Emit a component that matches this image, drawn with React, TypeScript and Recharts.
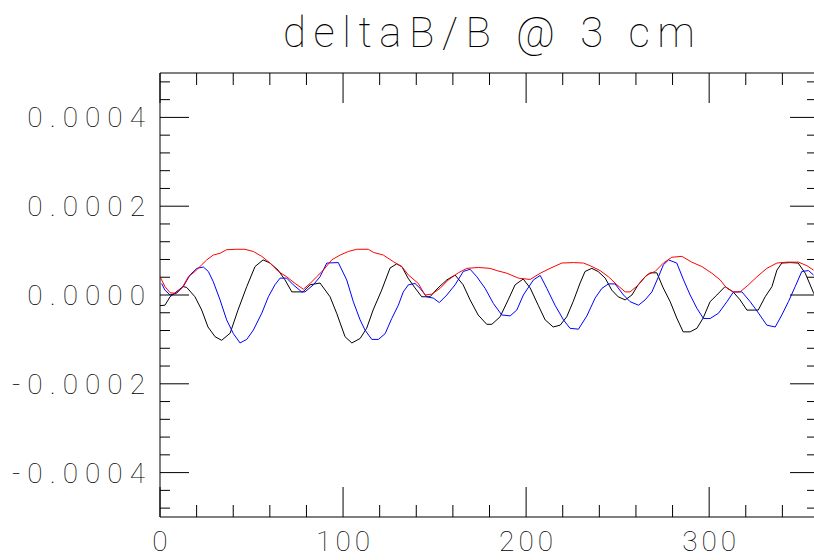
import React from 'react';
import { LineChart, Line, XAxis, YAxis } from 'recharts';

// values in units of 1e-4
const blackSeries: [number, number][] = [
  [0, -0.24], [2.7, -0.23], [5.5, -0.04], [12.6, 0.19], [14.6, 0.17], [19.1, -0.04], [22.8, -0.34],
  [26.2, -0.72], [30.1, -0.94], [33.7, -1.02], [38.3, -0.86], [42.6, -0.34], [47.4, 0.19], [51.9, 0.64],
  [56.3, 0.79], [60.1, 0.72], [64.5, 0.56], [68.3, 0.34], [72, 0.07], [78.1, 0.07], [82, 0.23],
  [87.4, 0.27], [92.9, -0.04], [96.5, -0.41], [101.1, -0.94], [104.8, -1.08], [109.3, -0.98],
  [112.9, -0.75], [116.4, -0.34], [121.1, 0.11], [125.7, 0.61], [129.3, 0.7], [132.1, 0.64],
  [135.5, 0.38], [139.3, 0.16], [143, -0.04], [147.5, -0.04], [151.9, 0.16], [156.7, 0.34],
  [161.2, 0.45], [165.6, 0.23], [169.4, -0.11], [173.8, -0.45], [178.5, -0.66], [181.3, -0.66],
  [185.8, -0.49], [190.2, -0.11], [194, 0.23], [198.4, 0.36], [202.2, 0.16], [206.6, -0.23],
  [210.4, -0.56], [214.8, -0.72], [218.6, -0.68], [222.2, -0.49], [225.7, -0.15], [229.5, 0.27],
  [232.2, 0.53], [235.9, 0.6], [239.3, 0.53], [243.2, 0.38], [246.8, 0.11], [250.3, -0.04],
  [254.1, -0.11], [257.8, 0], [261.2, 0.23], [265, 0.41], [267.8, 0.5], [271.4, 0.5], [274.9, 0.16],
  [278.7, -0.15], [282.3, -0.52], [285.8, -0.83], [289.6, -0.83], [293.3, -0.75], [296.7, -0.52],
  [300.5, -0.15], [304.2, 0], [308.7, 0.19], [313.1, 0.07], [316.9, -0.11], [320.6, -0.34],
  [326.8, -0.34], [330.6, -0.04], [334.3, 0.19], [337, 0.56], [339.7, 0.72], [344.3, 0.73],
  [348.6, 0.72], [352.5, 0.49], [357, 0.05], [360, -0.15],
];

const blueSeries: [number, number][] = [
  [0.9, 0.26], [2.7, 0.11], [5.5, 0], [9.1, 0.04], [12.7, 0.19], [16.4, 0.45], [20.1, 0.6], [23.7, 0.63],
  [26.4, 0.53], [29.1, 0.3], [32.8, -0.11], [36.4, -0.56], [40.1, -0.87], [43.7, -1.08], [47.4, -1.0],
  [51, -0.79], [55.6, -0.41], [59.2, -0.04], [62.8, 0.23], [65.6, 0.38], [69.2, 0.38], [72.8, 0.23],
  [77.4, 0.07], [79.2, 0.07], [83.8, 0.23], [87.4, 0.41], [91.1, 0.72], [97.4, 0.73], [102, 0.34],
  [105.6, -0.15], [109.3, -0.56], [112, -0.79], [115.7, -1.0], [119.3, -1.0], [123, -0.87],
  [126.6, -0.53], [130.2, -0.23], [132.9, 0.07], [135.7, 0.23], [139.3, 0.26], [142.1, 0.15],
  [145.7, -0.04], [149.3, -0.07], [152.6, -0.17], [156.7, 0], [161.2, 0.23], [165.7, 0.53],
  [169.4, 0.58], [173.1, 0.41], [177.6, 0.15], [182.1, -0.19], [186.7, -0.45], [191.3, -0.47],
  [194.9, -0.34], [198.5, 0], [204, 0.34], [207.7, 0.44], [211.3, 0.15], [215.8, -0.23], [220.4, -0.56],
  [224, -0.75], [228.6, -0.77], [233.2, -0.47], [237.7, -0.07], [241.4, 0.15], [245, 0.25],
  [248.6, 0.25], [253.2, 0], [256.8, -0.15], [261.4, -0.23], [265, -0.11], [268.7, 0.07], [272.3, 0.41],
  [275, 0.68], [277.8, 0.79], [282.3, 0.72], [286, 0.34], [289.6, 0], [293.3, -0.3], [296.9, -0.53],
  [300.5, -0.53], [305.1, -0.41], [309.7, -0.15], [313.3, 0.07], [317.9, 0.07], [322.4, -0.15],
  [327, -0.41], [331.5, -0.68], [336.1, -0.72], [339.7, -0.45], [343.3, -0.15], [347, 0.19],
  [350.6, 0.53], [354.3, 0.55], [357, 0.45],
];

const redSeries: [number, number][] = [
  [0.4, 0.38], [2.7, 0.19], [5.5, 0.05], [8.2, 0.04], [11.9, 0.15], [15.5, 0.41], [19.1, 0.53],
  [22.8, 0.68], [25.5, 0.79], [29.1, 0.9], [32.8, 0.94], [36.4, 1.02], [41.9, 1.03], [46.4, 1.03],
  [51, 0.98], [55.6, 0.87], [60.1, 0.72], [64.6, 0.53], [69.2, 0.41], [73.8, 0.26], [78.3, 0.13],
  [82, 0.26], [85.6, 0.41], [89.2, 0.56], [93.8, 0.79], [98.4, 0.9], [102.9, 0.98], [107.5, 1.03],
  [113.8, 1.03], [116.6, 0.96], [122, 0.9], [127.5, 0.75], [132.1, 0.64], [135.7, 0.45], [141.1, 0.26],
  [144.8, 0], [148.5, 0.02], [153, 0.15], [157.5, 0.34], [163, 0.5], [167.6, 0.6], [173.9, 0.62],
  [180.3, 0.6], [184, 0.55], [189.5, 0.49], [195.8, 0.38], [202.2, 0.35], [207.7, 0.49], [213.1, 0.6],
  [219.5, 0.72], [225.8, 0.73], [231.3, 0.72], [235, 0.66], [240.4, 0.55], [245, 0.41], [249.6, 0.23],
  [254.1, 0.07], [256.8, 0.07], [261.4, 0.23], [265.9, 0.45], [270.5, 0.53], [275, 0.72], [279.6, 0.85],
  [285.1, 0.87], [290.5, 0.74], [296, 0.64], [301.5, 0.49], [306, 0.34], [309.7, 0.15], [313.3, 0.07],
  [316.9, 0.07], [321.5, 0.23], [326.1, 0.41], [331.5, 0.6], [337, 0.72], [342.5, 0.74], [348.8, 0.74],
  [353.4, 0.66], [357, 0.56],
];

const xTicks = [0, 20, 40, 60, 80, 100, 120, 140, 160, 180, 200, 220, 240, 260, 280, 300, 320, 340, 360];
const xMajorTicks = [0, 100, 200, 300];
const yTicks = [-4.8, -4.4, -4, -3.6, -3.2, -2.8, -2.4, -2, -1.6, -1.2, -0.8, -0.4, 0, 0.4, 0.8, 1.2, 1.6, 2, 2.4, 2.8, 3.2, 3.6, 4, 4.4, 4.8];
const yMajorTicks = [-4, -2, 0, 2, 4];
const titleText = 'deltaB/B @ 3 cm';

const FONT = "Roboto, 'DejaVu Sans', sans-serif";
const toRows = (s: [number, number][]) => s.map(([x, y]) => ({ x, y }));

const isXMajor = (v: number) => xMajorTicks.some((m) => Math.abs(m - v) < 1e-6);
const isYMajor = (v: number) => yMajorTicks.some((m) => Math.abs(m - v) < 1e-6);

const BottomTick = (p: any) => {
  const { x, y, payload } = p;
  const major = isXMajor(payload.value);
  return (
    <g>
      <line x1={x} y1={y} x2={x} y2={y - (major ? 30 : 12)} stroke="#000" strokeWidth={1} />
      {major && (
        <text x={x + 2} y={y + 34} textAnchor="middle" fontFamily={FONT} fontWeight={100} fontSize={28} letterSpacing={4} fill="#000">
          {String(payload.value)}
        </text>
      )}
    </g>
  );
};

const TopTick = (p: any) => {
  const { x, y, payload } = p;
  const major = isXMajor(payload.value);
  return <line x1={x} y1={y} x2={x} y2={y + (major ? 30 : 12)} stroke="#000" strokeWidth={1} />;
};

const LeftTick = (p: any) => {
  const { x, y, payload } = p;
  const major = isYMajor(payload.value);
  const label = (payload.value / 10000).toFixed(4);
  return (
    <g>
      <line x1={x} y1={y} x2={x + (major ? 29 : 10)} y2={y} stroke="#000" strokeWidth={1} />
      {major && (
        <text x={x - 8} y={y + 10} textAnchor="end" fontFamily={FONT} fontWeight={100} fontSize={28} letterSpacing={7} fill="#000">
          {label}
        </text>
      )}
    </g>
  );
};

const RightTick = (p: any) => {
  const { x, y, payload } = p;
  const major = isYMajor(payload.value);
  return <line x1={x} y1={y} x2={x - (major ? 29 : 12)} y2={y} stroke="#000" strokeWidth={1} />;
};

export default function App() {
  return (
    <div style={{ position: 'relative', width: 814, height: 560, overflow: 'hidden', background: '#fff' }}>
      <style>{'body{margin:0;}'}</style>
      <svg width={814} height={70} style={{ position: 'absolute', left: 0, top: 0 }}>
        <text x={489} y={47} textAnchor="middle" fontFamily={FONT} fontWeight={100} fontSize={42} textLength={412} lengthAdjust="spacing" fill="#000">
          {titleText}
        </text>
      </svg>
      <div style={{ position: 'absolute', left: 0, top: 0 }}>
        <LineChart width={820} height={560} margin={{ top: 72, right: 0, bottom: 42, left: 159 }}>
          <XAxis xAxisId="bottom" type="number" dataKey="x" domain={[0, 360]} ticks={xTicks} interval={0}
            height={1} tickSize={0} tickMargin={0} tickLine={false} axisLine={{ stroke: '#000' }} tick={<BottomTick />} allowDataOverflow />
          <XAxis xAxisId="top" orientation="top" type="number" dataKey="x" domain={[0, 360]} ticks={xTicks} interval={0}
            height={1} tickSize={0} tickMargin={0} tickLine={false} axisLine={{ stroke: '#000' }} tick={<TopTick />} allowDataOverflow />
          <YAxis yAxisId="left" type="number" domain={[-5, 5]} ticks={yTicks} interval={0}
            width={1} tickSize={0} tickMargin={0} tickLine={false} axisLine={{ stroke: '#000' }} tick={<LeftTick />} allowDataOverflow />
          <YAxis yAxisId="right" orientation="right" type="number" domain={[-5, 5]} ticks={yTicks} interval={0}
            width={1} tickSize={0} tickMargin={0} tickLine={false} axisLine={{ stroke: '#000' }} tick={<RightTick />} allowDataOverflow />
          <Line xAxisId="bottom" yAxisId="left" data={toRows(blackSeries)} dataKey="y" type="linear" stroke="#000" strokeWidth={1} dot={false} activeDot={false} isAnimationActive={false} />
          <Line xAxisId="bottom" yAxisId="left" data={toRows(blueSeries)} dataKey="y" type="linear" stroke="#0000ff" strokeWidth={1} dot={false} activeDot={false} isAnimationActive={false} />
          <Line xAxisId="bottom" yAxisId="left" data={toRows(redSeries)} dataKey="y" type="linear" stroke="#ff0000" strokeWidth={1} dot={false} activeDot={false} isAnimationActive={false} />
        </LineChart>
      </div>
    </div>
  );
}
